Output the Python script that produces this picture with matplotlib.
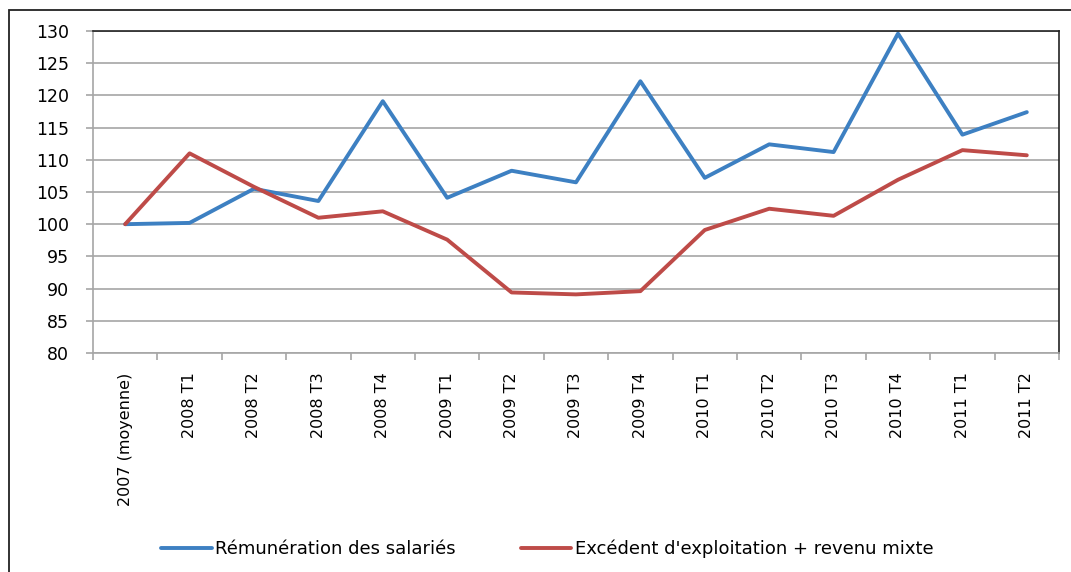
import matplotlib.pyplot as plt
import numpy as np
from matplotlib.patches import Rectangle

periods = ['2007 (moyenne)', '2008 T1', '2008 T2', '2008 T3', '2008 T4',
           '2009 T1', '2009 T2', '2009 T3', '2009 T4', '2010 T1',
           '2010 T2', '2010 T3', '2010 T4', '2011 T1', '2011 T2']
remuneration = [100.0, 100.2, 105.5, 103.6, 119.1, 104.1, 108.3, 106.5,
                122.2, 107.2, 112.4, 111.2, 129.6, 113.9, 117.4]
excedent = [100.0, 111.0, 105.8, 101.0, 102.0, 97.6, 89.4, 89.1,
            89.6, 99.1, 102.4, 101.3, 106.9, 111.5, 110.7]
y_ticks = list(range(80, 131, 5))

plt.rcParams['font.family'] = ['DejaVu Sans']

fig = plt.figure(figsize=(10.71, 5.72), dpi=100)
ax = fig.add_axes([0.0868, 0.3829, 0.9020, 0.5629])

x = np.arange(len(periods))
ax.plot(x, remuneration, color='#3d80c2', lw=2.8, solid_capstyle='round',
        label='Rémunération des salariés')
ax.plot(x, excedent, color='#be4b48', lw=2.8, solid_capstyle='round',
        label="Excédent d'exploitation + revenu mixte")

ax.set_xlim(-0.5, len(periods) - 0.5)
ax.set_ylim(80, 130)
ax.set_yticks(y_ticks)
ax.yaxis.grid(True, color='#a6a6a6', lw=1.2)
ax.set_axisbelow(True)

ax.set_xticks(x)
ax.set_xticklabels(periods, rotation=90, va='top', ha='center')
ax.set_xticks(np.arange(-0.5, len(periods), 1), minor=True)
ax.tick_params(axis='x', which='major', length=0, pad=14, labelsize=11.5)
ax.tick_params(axis='x', which='minor', length=5, color='#a6a6a6', width=1.2)
ax.tick_params(axis='y', length=5, color='#a6a6a6', width=1.2, labelsize=12.5, pad=12)

for side in ['left', 'bottom']:
    ax.spines[side].set_color('#a6a6a6')
    ax.spines[side].set_linewidth(1.2)
for side in ['top', 'right']:
    ax.spines[side].set_color('#222222')
    ax.spines[side].set_linewidth(1.2)

fig.legend(loc='center', bbox_to_anchor=(0.511, 0.04), ncol=2, frameon=False,
           fontsize=13, handlelength=2.8, handletextpad=0.2, columnspacing=3.6)

fig.patches.append(Rectangle((9 / 1071, -0.05), 1.2, 1.05 - 10 / 572,
                             transform=fig.transFigure, fill=False,
                             edgecolor='#222222', lw=1.3))

fig.savefig('out.png', dpi=100)
